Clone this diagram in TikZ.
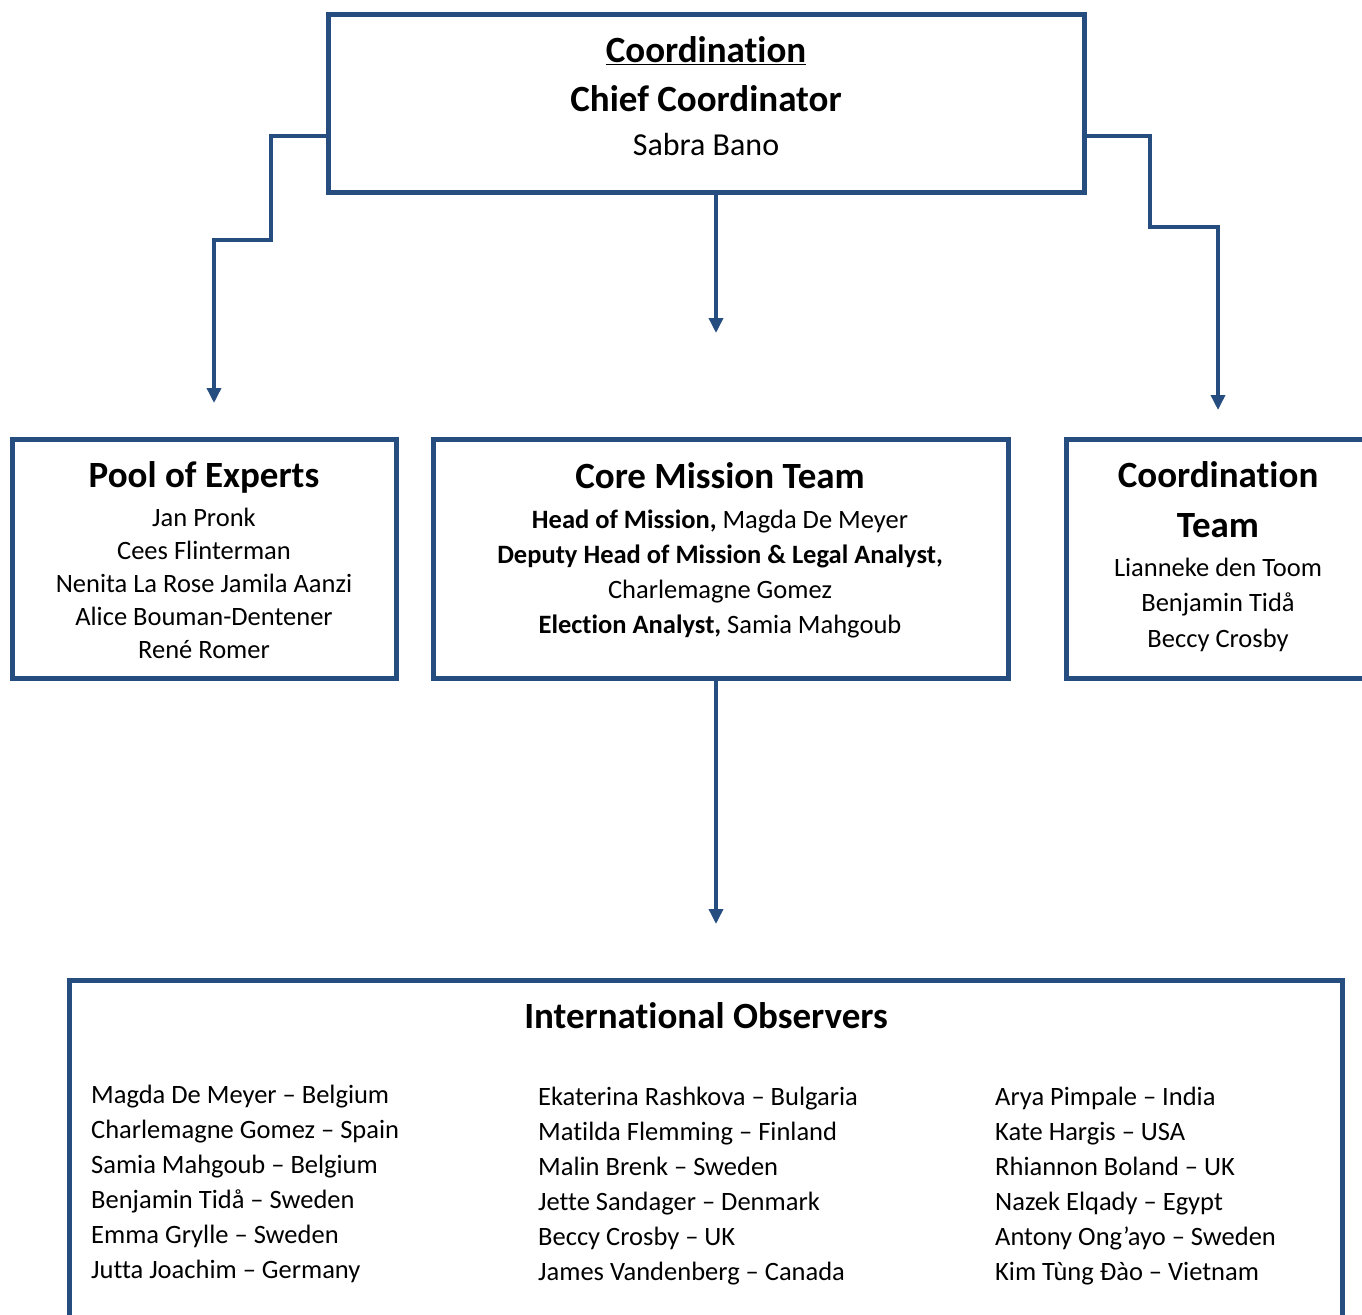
\documentclass[tikz,border=0pt]{standalone}
\usepackage{fontspec}
\setmainfont{Carlito}[Ligatures={TeX,NoCommon,NoContextual}, Contextuals=NoAlternate]
\usetikzlibrary{arrows.meta,positioning}
\definecolor{orgblue}{RGB}{37,77,128}
\newcommand{\ttlfont}{\fontsize{37}{49}\selectfont\bfseries}
\newcommand{\namefont}{\fontsize{26.5}{33}\selectfont}
\tikzset{
  box/.style={rectangle, draw=orgblue, line width=5pt, inner sep=0pt, outer sep=0pt},
  arr/.style={draw=orgblue, line width=3.5pt, -{Triangle[width=14pt,length=15pt]}},
  ttl/.style={align=center, inner sep=0pt, font=\ttlfont},
  names/.style={align=center, inner sep=0pt, font=\namefont},
  obs/.style={align=left, inner sep=0pt, anchor=north west, font=\fontsize{26.5}{35}\selectfont},
}
\begin{document}
\begin{tikzpicture}[x=1pt, y=-1pt]
    \useasboundingbox (0,0) rectangle (1362,1314);
    \clip (0,0) rectangle (1362,1314);

    % boxes
    \node[box, minimum width=756pt, minimum height=177pt] (coord) at (706,103.5) {};
    \node[box, minimum width=384pt, minimum height=239pt] (pool) at (204,558.5) {};
    \node[box, minimum width=575pt, minimum height=239pt] (core) at (720.5,558.5) {};
    \node[box, minimum width=310pt, minimum height=239pt] (team) at (1221,558.5) {};
    \node[box, minimum width=1273pt, minimum height=380pt] (intl) at (705.5,1170) {};

    % texts
    \node[ttl] (coordtitle) at (706,74) {\underline{Coordination}\\Chief Coordinator};
    \node[names, font=\fontsize{32}{38}\selectfont] (coordname) at (706,144.5) {Sabra Bano};

    \node[ttl] (pooltitle) at (204,477) {Pool of Experts};
    \node[names] (poolnames) at (204,583.5) {Jan Pronk\\Cees Flinterman\\Nenita La Rose Jamila Aanzi\\Alice Bouman-Dentener\\René Romer};

    \node[ttl] (coretitle) at (720,476) {Core Mission Team};
    \node[names, font=\fontsize{26.5}{35}\selectfont] (corenames) at (720,573.5) {{\bfseries Head of Mission,} Magda De Meyer\\{\bfseries Deputy Head of Mission \& Legal Analyst,}\\Charlemagne Gomez\\{\bfseries Election Analyst,} Samia Mahgoub};

    \node[ttl, font=\fontsize{37}{50}\selectfont\bfseries] (teamtitle) at (1218,500) {Coordination\\Team};
    \node[names, font=\fontsize{26.5}{35.5}\selectfont] (teamnames) at (1218,604.5) {Lianneke den Toom\\Benjamin Tidå\\Beccy Crosby};

    \node[ttl] (intltitle) at (706,1016) {International Observers};
    \node[obs] (obsleft) at (91,1085) {Magda De Meyer – Belgium\\Charlemagne Gomez – Spain\\Samia Mahgoub – Belgium\\Benjamin Tidå – Sweden\\Emma Grylle – Sweden\\Jutta Joachim – Germany};
    \node[obs] (obsmid) at (538,1087) {Ekaterina Rashkova – Bulgaria\\Matilda Flemming – Finland\\Malin Brenk – Sweden\\Jette Sandager – Denmark\\Beccy Crosby – UK\\James Vandenberg – Canada};
    \node[obs] (obsright) at (995,1087) {Arya Pimpale – India\\Kate Hargis – USA\\Rhiannon Boland – UK\\Nazek Elqady – Egypt\\Antony Ong’ayo – Sweden\\Kim Tùng Đào – Vietnam};

    % connectors
    \coordinate (pooltip) at (214,403);
    \coordinate (coretip) at (716,333);
    \coordinate (teamtip) at (1218,410);
    \coordinate (intltip) at (716,924);
    \draw[arr] ([yshift=-32.5pt]coord.west) -| (271,240) -| (pooltip);
    \draw[arr] (coord.south -| coretip) -- (coretip);
    \draw[arr] ([yshift=-32.5pt]coord.east) -| (1150,227) -| (teamtip);
    \draw[arr] (core.south -| intltip) -- (intltip);
\end{tikzpicture}
\end{document}
